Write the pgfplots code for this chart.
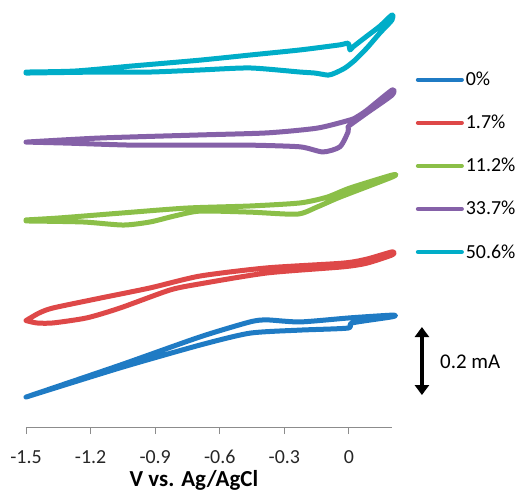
\documentclass[border=0pt]{standalone}
\usepackage{fontspec}
\setmainfont{Carlito}
\usepackage{pgfplots}
\pgfplotsset{compat=1.18}
\usetikzlibrary{arrows.meta}

\definecolor{cvblue}{HTML}{1F7BC4}
\definecolor{cvred}{HTML}{DE4848}
\definecolor{cvgreen}{HTML}{8BBF48}
\definecolor{cvpurple}{HTML}{8561A8}
\definecolor{cvcyan}{HTML}{00ADC8}
\definecolor{axgray}{HTML}{8C8C8C}

\pgfplotsset{cv/.style={line width=5bp, smooth, tension=0.4, line join=round, line cap=round}}

\begin{document}
\begin{tikzpicture}
\useasboundingbox (-26bp,-65bp) rectangle (493bp,427bp);
\begin{axis}[
  scale only axis,
  width=366bp, height=427bp,
  xmin=-1.5, xmax=0.2,
  ymin=0, ymax=1.2559,
  axis x line=bottom,
  hide y axis,
  x axis line style={draw=axgray, line width=1pt, -},
  xtick={-1.5,-1.2,-0.9,-0.6,-0.3,0},
  xticklabels={-1.5,-1.2,-0.9,-0.6,-0.3,0},
  tick align=outside,
  major tick length=7bp,
  tick style={draw=axgray, line width=1pt},
  xticklabel style={font=\fontsize{20}{24}\selectfont, text=black!85, yshift=-13bp},
  clip=false,
  legend style={draw=none, fill=none, at={(axis cs:0.31,1.05)}, anchor=north west,
    font=\fontsize{20}{24}\selectfont, row sep=24bp, inner sep=0pt},
  legend cell align=left,
  legend image code/.code={\draw[#1, line width=4bp, sharp plot, line cap=round] (0bp,0bp) -- (44bp,0bp);},
]
% 0%
\addplot[cvblue, cv] coordinates {
(-1.5,0.088) (-1.063,0.182) (-0.692,0.265) (-0.460,0.309) (-0.381,0.315) (-0.227,0.309)
(0.005,0.321) (0.200,0.329)
(0.200,0.324) (0.014,0.306) (-0.004,0.291) (-0.227,0.285) (-0.460,0.276) (-0.692,0.241)
(-1.063,0.174) (-1.5,0.088)};
\addlegendentry{0\%}
% 1.7%
\addplot[cvred, cv] coordinates {
(-1.5,0.313) (-1.44,0.335) (-1.375,0.350) (-1.156,0.379) (-0.924,0.409) (-0.692,0.444)
(-0.381,0.468) (-0.028,0.482) (0.084,0.494) (0.200,0.515)
(0.200,0.506) (0.084,0.482) (-0.028,0.471) (-0.381,0.453) (-0.692,0.421) (-0.831,0.403)
(-1.063,0.350) (-1.217,0.321) (-1.375,0.306) (-1.45,0.306) (-1.5,0.313)};
\addlegendentry{1.7\%}
% 11.2%
\addplot[cvgreen, cv] coordinates {
(-1.5,0.609) (-1.342,0.615) (-1.063,0.629) (-0.752,0.644) (-0.460,0.650) (-0.227,0.659)
(-0.102,0.676) (0.005,0.703) (0.200,0.741)
(0.200,0.735) (-0.042,0.676) (-0.148,0.647) (-0.241,0.626) (-0.460,0.632) (-0.692,0.635)
(-0.808,0.621) (-0.924,0.603) (-1.049,0.594) (-1.235,0.603) (-1.5,0.606)};
\addlegendentry{11.2\%}
% 33.7%
\addplot[cvpurple, cv] coordinates {
(-1.5,0.838) (-1.156,0.850) (-0.692,0.859) (-0.381,0.865) (-0.148,0.879) (0.005,0.903)
(0.037,0.912) (0.084,0.932) (0.200,0.991)
(0.200,0.976) (0.084,0.924) (0.005,0.888) (-0.004,0.882) (-0.004,0.868) (-0.042,0.824)
(-0.121,0.809) (-0.227,0.824) (-0.460,0.829) (-0.692,0.829) (-1.003,0.829) (-1.310,0.835)
(-1.5,0.838)};
\addlegendentry{33.7\%}
% 50.6%
\addplot[cvcyan, cv] coordinates {
(-1.5,1.044) (-1.272,1.047) (-1.003,1.062) (-0.692,1.079) (-0.460,1.094) (-0.227,1.109)
(-0.042,1.124) (-0.004,1.129) (0.005,1.109) (0.019,1.118) (0.084,1.150) (0.144,1.179)
(0.200,1.212)
(0.200,1.197) (0.144,1.159) (0.084,1.115) (0.028,1.079) (-0.018,1.056) (-0.065,1.041)
(-0.097,1.035) (-0.158,1.041) (-0.227,1.044) (-0.460,1.056) (-0.692,1.050) (-0.924,1.044)
(-1.156,1.044) (-1.5,1.041)};
\addlegendentry{50.6\%}
% scale bar
\draw[black, line width=3.5bp, {Triangle[width=14bp,length=10bp]}-{Triangle[width=14bp,length=10bp]}]
  (axis cs:0.339,0.294) -- (axis cs:0.339,0.094);
\node[anchor=west, font=\fontsize{21}{25}\selectfont, inner sep=0pt] at (axis cs:0.423,0.191) {0.2 mA};
\node[anchor=base, font=\bfseries\fontsize{23}{28}\selectfont, inner sep=0pt] at (axis cs:-0.72,-0.176) {V vs. Ag/AgCl};
\end{axis}
\end{tikzpicture}
\end{document}
